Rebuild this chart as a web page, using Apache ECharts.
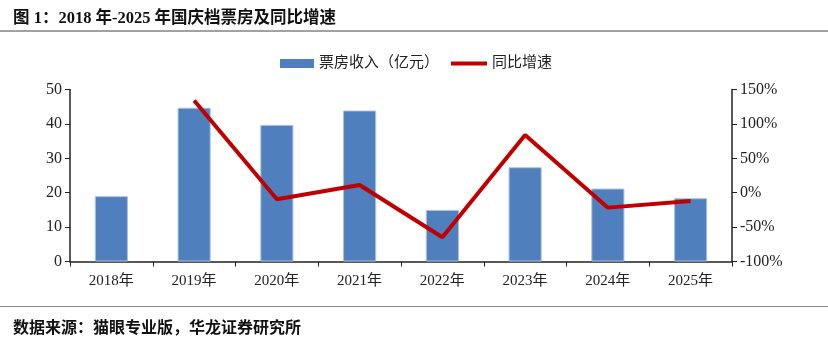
<!DOCTYPE html>
<html>
<head>
<meta charset="utf-8">
<script src="https://cdn.jsdelivr.net/npm/echarts@6/dist/echarts.min.js"></script>
<style>
  html, body { margin: 0; padding: 0; background: #fff; }
  #chart { width: 828px; height: 337px; }
</style>
</head>
<body>
<div id="chart"></div>
<script>
// National Day holiday box office, 2018-2025
const years = ['2018年', '2019年', '2020年', '2021年', '2022年', '2023年', '2024年', '2025年'];
const boxOffice = [19.0, 44.7, 39.7, 43.9, 15.0, 27.4, 21.2, 18.4];   // 亿元
const yoyGrowth = [null, 134, -9.6, 11.2, -64.7, 83.7, -21.7, -12.0]; // %
const leftTicks = { min: 0, max: 50, interval: 10 };
const rightTicks = { min: -100, max: 150, interval: 50 };

const serif = '"Liberation Serif", "Noto Sans CJK SC", serif';
const axisColor = '#222';
const barColor = '#4f7fbc';
const lineColor = '#c00000';

const chart = echarts.init(document.getElementById('chart'));
chart.setOption({
  backgroundColor: '#fff',
  animation: false,
  title: [
    {
      text: '图 1：2018 年-2025 年国庆档票房及同比增速',
      left: 8, top: 5,
      textStyle: { fontFamily: serif, fontWeight: 'bold', fontSize: 16.5, color: '#111' }
    },
    {
      text: '数据来源：猫眼专业版，华龙证券研究所',
      left: 8, top: 316,
      textStyle: { fontFamily: serif, fontWeight: 'bold', fontSize: 16, color: '#111' }
    }
  ],
  graphic: [
    { type: 'line', shape: { x1: 0, y1: 31, x2: 828, y2: 31 }, style: { stroke: '#444', lineWidth: 1 } },
    { type: 'line', shape: { x1: 0, y1: 306.5, x2: 828, y2: 306.5 }, style: { stroke: '#888', lineWidth: 1 } }
  ],
  legend: [
    {
      top: 51, left: 275,
      itemWidth: 34, itemHeight: 9,
      itemStyle: { borderWidth: 0 },
      textStyle: { fontFamily: serif, fontSize: 15, color: '#222' },
      data: [{ name: '票房收入（亿元）', icon: 'rect' }]
    },
    {
      top: 51, left: 446,
      itemWidth: 36, itemHeight: 4,
      textStyle: { fontFamily: serif, fontSize: 15, color: '#222' },
      data: [{ name: '同比增速', icon: 'rect' }]
    }
  ],
  grid: { left: 70, right: 96, top: 89.5, bottom: 75.5 },
  xAxis: {
    type: 'category',
    data: years,
    axisLine: { lineStyle: { color: axisColor, width: 1.5 } },
    axisTick: { show: true, inside: false, length: 5, lineStyle: { color: axisColor } },
    axisLabel: { fontFamily: serif, fontSize: 15, color: '#222', margin: 12 }
  },
  yAxis: [
    {
      type: 'value',
      min: leftTicks.min, max: leftTicks.max, interval: leftTicks.interval,
      axisLine: { show: true, lineStyle: { color: axisColor, width: 1.5 } },
      axisTick: { show: true, length: 5, lineStyle: { color: axisColor } },
      axisLabel: { fontFamily: serif, fontSize: 16, color: '#222', margin: 8 },
      splitLine: { show: false }
    },
    {
      type: 'value',
      min: rightTicks.min, max: rightTicks.max, interval: rightTicks.interval,
      axisLine: { show: true, lineStyle: { color: axisColor, width: 1.5 } },
      axisTick: { show: true, length: 5, lineStyle: { color: axisColor } },
      axisLabel: { fontFamily: serif, fontSize: 16, color: '#222', margin: 8, formatter: '{value}%' },
      splitLine: { show: false }
    }
  ],
  series: [
    {
      name: '票房收入（亿元）',
      type: 'bar',
      yAxisIndex: 0,
      data: boxOffice,
      barWidth: '40%',
      itemStyle: { color: barColor, borderColor: '#a9c2e2', borderWidth: 1 }
    },
    {
      name: '同比增速',
      type: 'line',
      yAxisIndex: 1,
      data: yoyGrowth,
      symbol: 'none',
      connectNulls: false,
      lineStyle: { color: lineColor, width: 4 },
      itemStyle: { color: lineColor }
    }
  ]
});
</script>
</body>
</html>
